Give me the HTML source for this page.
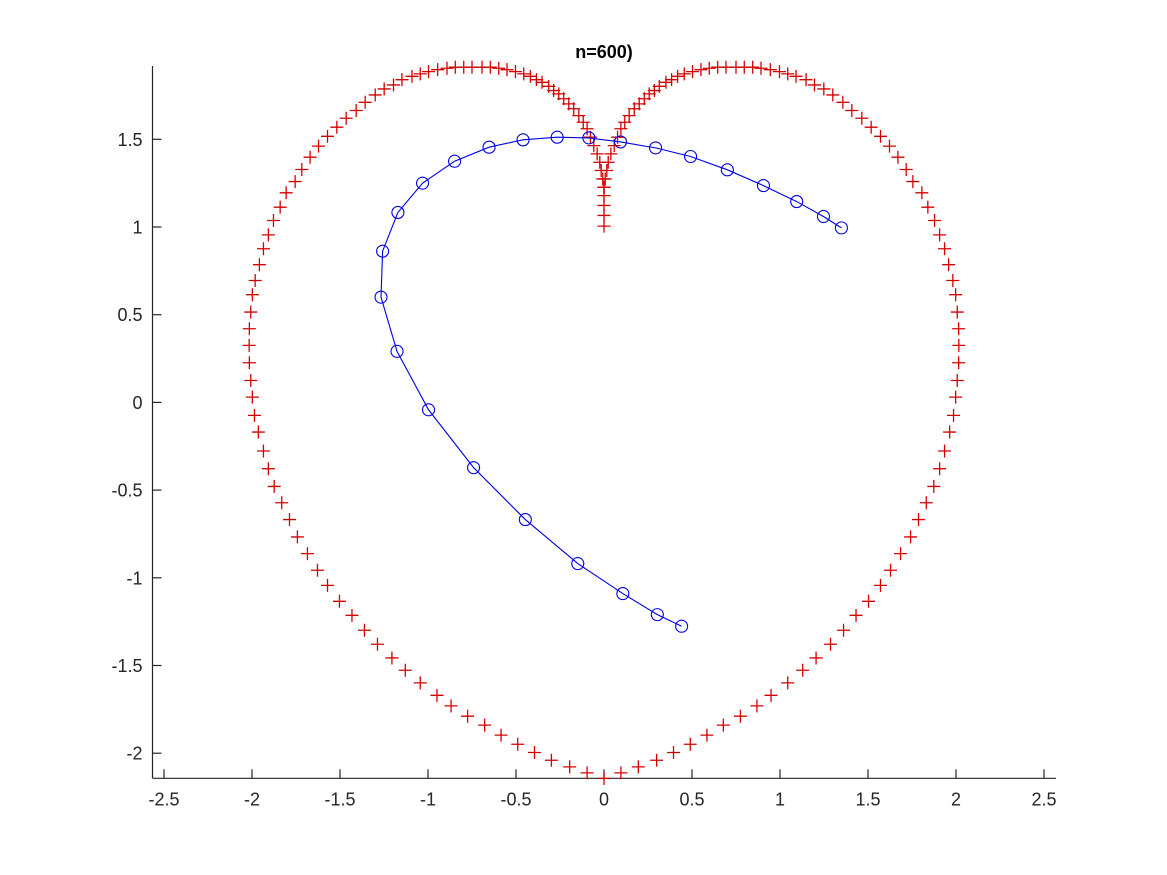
<!DOCTYPE html>
<html><head><meta charset="utf-8"><style>
html,body{margin:0;padding:0;background:#fff;}
svg{display:block;font-family:"Liberation Sans",Arial,sans-serif;}
</style></head><body>
<svg id="chart" width="1167" height="875" viewBox="0 0 1167 875" xmlns="http://www.w3.org/2000/svg">
<rect width="1167" height="875" fill="#fff"/>
<text x="604" y="58" text-anchor="middle" font-size="18" font-weight="bold" fill="#000">n=600)</text>
<g id="axes"></g>
<g id="heart"></g>
<g id="traj"></g>
</svg>
<script>
const xTicks = [-2.5,-2,-1.5,-1,-0.5,0,0.5,1,1.5,2,2.5];
const xTickLabels = ["-2.5","-2","-1.5","-1","-0.5","0","0.5","1","1.5","2","2.5"];
const yTicks = [-2,-1.5,-1,-0.5,0,0.5,1,1.5];
const yTickLabels = ["-2","-1.5","-1","-0.5","0","0.5","1","1.5"];
const heartLeftX = [-1.964,-1.986,-1.998,-2.007,-2.015,-2.016,-2.015,-2.007,-1.998,-1.982,-1.958,-1.935,-1.907,-1.878,-1.840,-1.806,-1.755,-1.717,-1.670,-1.622,-1.571,-1.518,-1.465,-1.408,-1.357,-1.300,-1.249,-1.196,-1.148,-1.091,-1.044,-0.997,-0.945,-0.892,-0.845,-0.797,-0.750,-0.693,-0.646,-0.598,-0.551,-0.503,-0.456,-0.418,-0.384,-0.352,-0.314,-0.286,-0.257,-0.229,-0.200,-0.172,-0.143,-0.118,-0.096,-0.077,-0.058,-0.039,-0.024,-0.016,-0.007,-0.001,0,0,0,0,
-1.935,-1.907,-1.874,-1.831,-1.787,-1.742,-1.685,-1.628,-1.571,-1.503,-1.432,-1.361,-1.287,-1.205,-1.129,-1.044,-0.949,-0.869,-0.775,-0.678,-0.585,-0.490,-0.395,-0.299,-0.195,-0.096,0];
const heartLeftY = [-0.169,-0.074,0.030,0.125,0.226,0.325,0.420,0.515,0.614,0.695,0.785,0.876,0.955,1.037,1.113,1.195,1.259,1.328,1.398,1.461,1.517,1.569,1.620,1.664,1.711,1.753,1.787,1.810,1.840,1.859,1.873,1.886,1.897,1.905,1.911,1.911,1.911,1.911,1.911,1.905,1.897,1.886,1.873,1.859,1.840,1.825,1.802,1.778,1.759,1.731,1.702,1.674,1.635,1.597,1.560,1.512,1.464,1.417,1.369,1.322,1.274,1.227,1.179,1.123,1.066,1.005,
-0.277,-0.378,-0.479,-0.572,-0.668,-0.767,-0.862,-0.957,-1.043,-1.134,-1.214,-1.299,-1.379,-1.457,-1.527,-1.599,-1.670,-1.730,-1.789,-1.840,-1.897,-1.949,-1.996,-2.040,-2.078,-2.112,-2.144];
const heartRightX = [1.964,1.986,1.998,2.007,2.015,2.016,2.015,2.007,1.998,1.982,1.958,1.935,1.907,1.878,1.840,1.806,1.755,1.717,1.670,1.622,1.571,1.518,1.465,1.408,1.357,1.300,1.249,1.196,1.148,1.091,1.044,0.997,0.945,0.892,0.845,0.797,0.750,0.693,0.646,0.598,0.551,0.503,0.456,0.418,0.384,0.352,0.314,0.286,0.257,0.229,0.200,0.172,0.143,0.118,0.096,0.077,0.058,0.039,0.024,0.016,0.007,0.001,
1.935,1.907,1.874,1.831,1.787,1.742,1.685,1.628,1.571,1.503,1.432,1.361,1.287,1.205,1.129,1.044,0.949,0.869,0.775,0.678,0.585,0.490,0.395,0.299,0.195,0.096];
const heartRightY = [-0.169,-0.074,0.030,0.125,0.226,0.325,0.420,0.515,0.614,0.695,0.785,0.876,0.955,1.037,1.113,1.195,1.259,1.328,1.398,1.461,1.517,1.569,1.620,1.664,1.711,1.753,1.787,1.810,1.840,1.859,1.873,1.886,1.897,1.905,1.911,1.911,1.911,1.911,1.911,1.905,1.897,1.886,1.873,1.859,1.840,1.825,1.802,1.778,1.759,1.731,1.702,1.674,1.635,1.597,1.560,1.512,1.464,1.417,1.369,1.322,1.274,1.227,
-0.277,-0.378,-0.479,-0.572,-0.668,-0.767,-0.862,-0.957,-1.043,-1.134,-1.214,-1.299,-1.379,-1.457,-1.527,-1.599,-1.670,-1.730,-1.789,-1.840,-1.897,-1.949,-1.996,-2.040,-2.078,-2.112];
const trajX = [1.349,1.247,1.095,0.906,0.701,0.492,0.293,0.094,-0.086,-0.266,-0.460,-0.653,-0.849,-1.031,-1.171,-1.258,-1.267,-1.176,-0.997,-0.741,-0.447,-0.149,0.107,0.303,0.441];
const trajY = [0.995,1.060,1.145,1.236,1.326,1.402,1.451,1.485,1.508,1.512,1.497,1.455,1.375,1.250,1.083,0.862,0.600,0.291,-0.042,-0.372,-0.668,-0.919,-1.090,-1.210,-1.276];

const NS = "http://www.w3.org/2000/svg";
const X0 = 604, XS = 176, Y0 = 402.4, YS = 175.4;
const L = 152.5, R = 1056, T = 66, B = 778.3;
function sx(v){ return X0 + v*XS; }
function sy(v){ return Y0 - v*YS; }
function mk(tag, attrs, parent){ const e = document.createElementNS(NS, tag); for (const k in attrs) e.setAttribute(k, attrs[k]); parent.appendChild(e); return e; }

const axes = document.getElementById('axes');
let e;
e = mk('line', {x1:L, y1:T, x2:L, y2:B, stroke:'#262626', 'stroke-width':1.2}, axes);


e = mk('line', {x1:L, y1:B, x2:R, y2:B, stroke:'#262626', 'stroke-width':1.2}, axes);


xTicks.forEach((t, i) => {
  const x = sx(t);
  const tk = mk('line', {x1:x, y1:B, x2:x, y2:B-9, stroke:'#262626', 'stroke-width':1.2}, axes);
  
  
  const lb = mk('text', {x:x, y:B+27, 'text-anchor':'middle', 'font-size':18, fill:'#262626'}, axes);
  lb.textContent = xTickLabels[i];
  
  
});
yTicks.forEach((t, i) => {
  const y = sy(t);
  const tk = mk('line', {x1:L, y1:y, x2:L+9, y2:y, stroke:'#262626', 'stroke-width':1.2}, axes);
  
  
  const lb = mk('text', {x:L-10, y:y+6.5, 'text-anchor':'end', 'font-size':18, fill:'#262626'}, axes);
  lb.textContent = yTickLabels[i];
  
  
});

const heart = document.getElementById('heart');
function plus(xv, yv){
  const x = sx(xv), y = sy(yv), h = 6.5;
  const p = mk('path', {d:`M${x-h},${y}H${x+h}M${x},${y-h}V${y+h}`, stroke:'#d40000', 'stroke-width':1.3, fill:'none'}, heart);
  
  
}
heartLeftX.forEach((v, i) => plus(v, heartLeftY[i]));
heartRightX.forEach((v, i) => plus(v, heartRightY[i]));

const traj = document.getElementById('traj');
const pl = mk('polyline', {points: trajX.map((v, i) => sx(v) + ',' + sy(trajY[i])).join(' '), fill:'none', stroke:'#0000e6', 'stroke-width':1.1}, traj);


trajX.forEach((v, i) => {
  const c = mk('circle', {cx:sx(v), cy:sy(trajY[i]), r:6, fill:'none', stroke:'#0000e6', 'stroke-width':1.1}, traj);
  
  
});
</script>
</body></html>
